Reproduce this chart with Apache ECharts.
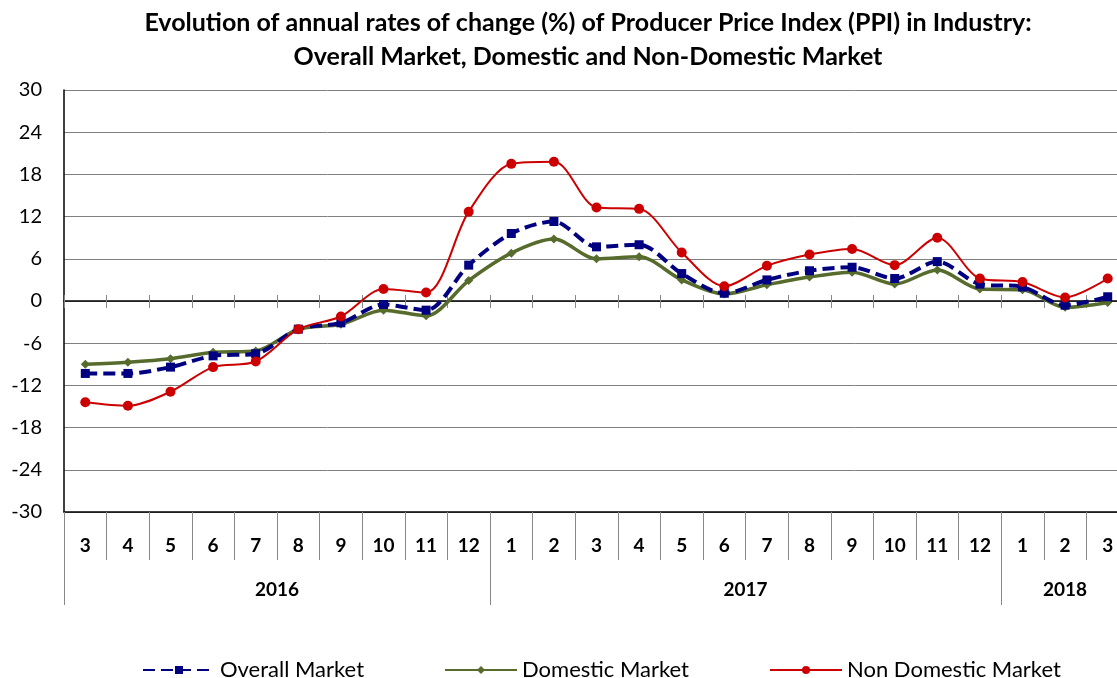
<!DOCTYPE html>
<html>
<head>
<meta charset="utf-8">
<script src="https://cdn.jsdelivr.net/npm/echarts@6/dist/echarts.min.js"></script>
<style>html,body{margin:0;padding:0;background:#fff}#c{width:1117px;height:678px}</style>
</head>
<body>
<div id="c"></div>
<script>
var months = ['3','4','5','6','7','8','9','10','11','12','1','2','3','4','5','6','7','8','9','10','11','12','1','2','3'];
var years = ['2016','2017','2018'];
var yearSpans = [10, 12, 3];
var overall = [-10.3,-10.3,-9.4,-7.8,-7.5,-4.0,-3.1,-0.5,-1.3,5.1,9.6,11.3,7.7,8.0,3.9,1.1,3.0,4.3,4.8,3.2,5.6,2.4,2.0,-0.6,0.6];
var domestic = [-9.0,-8.7,-8.2,-7.3,-7.1,-4.0,-3.3,-1.3,-2.1,2.9,6.8,8.8,6.0,6.3,3.0,1.0,2.3,3.4,4.1,2.4,4.4,1.7,1.6,-0.9,-0.2];
var nonDomestic = [-14.4,-14.9,-12.9,-9.4,-8.6,-4.0,-2.2,1.7,1.2,12.7,19.5,19.8,13.3,13.1,6.9,2.1,5.0,6.6,7.4,5.1,9.0,3.2,2.7,0.5,3.2];
var yTicks = [-30,-24,-18,-12,-6,0,6,12,18,24,30];

var FONT = 'Lato';
var yearBounds = [0], yearCenters = [];
(function(){ var acc = 0; for (var i = 0; i < yearSpans.length; i++) { yearCenters.push(acc + yearSpans[i]/2); acc += yearSpans[i]; yearBounds.push(acc); } })();

var chart = echarts.init(document.getElementById('c'), null, {renderer:'canvas'});
chart.setOption({
  animation: false,
  backgroundColor: '#fff',
  title: {
    text: 'Evolution of annual rates of change (%) of Producer Price Index (PPI) in Industry:\nOverall Market, Domestic and Non-Domestic Market',
    left: 583, top: 1, textAlign: 'center',
    textStyle: {fontFamily: FONT, fontWeight: 'bold', fontSize: 25, color: '#000', lineHeight: 34}
  },
  legend: {
    bottom: -8, left: 137, itemWidth: 72, itemHeight: 10, itemGap: 80,
    textStyle: {fontFamily: FONT, fontSize: 22, color: '#000'},
    data: ['Overall Market','Domestic Market','Non Domestic Market']
  },
  grid: {left: 64, right: -12, top: 90, bottom: 166, containLabel: false, outerBoundsMode: 'none'},
  xAxis: [
    {
      type: 'category', data: months, position: 'bottom', boundaryGap: true,
      axisLine: {onZero: false, lineStyle: {color: '#000', width: 1.5}},
      axisTick: {show: true, length: 48, interval: 0, lineStyle: {color: '#888'}},
      axisLabel: {interval: 0, margin: 24, fontFamily: FONT, fontWeight: 'bold', fontSize: 19, color: '#000'},
      splitLine: {show: false}
    },
    {
      type: 'category', data: months, position: 'bottom', boundaryGap: true,
      axisLine: {onZero: true, lineStyle: {color: '#000', width: 1.5}},
      axisTick: {show: true, inside: true, length: 6, interval: 0, lineStyle: {color: '#888'}},
      axisLabel: {show: false}, splitLine: {show: false}
    },
    {
      type: 'category', data: months, position: 'bottom', boundaryGap: true, offset: -211,
      axisLine: {show: false, onZero: false},
      axisTick: {show: true, length: 7, interval: 0, lineStyle: {color: '#888'}},
      axisLabel: {show: false}, splitLine: {show: false}
    },
    {
      type: 'value', position: 'bottom', min: 0, max: yearBounds[yearBounds.length-1],
      axisLine: {show: false, onZero: false},
      axisTick: {show: true, length: 93, customValues: yearBounds, lineStyle: {color: '#888'}},
      axisLabel: {show: true, customValues: yearCenters, margin: 68, fontFamily: FONT, fontWeight: 'bold', fontSize: 19, color: '#000',
        formatter: function(v){ var i = yearCenters.indexOf(v); return i >= 0 ? years[i] : ''; }},
      splitLine: {show: false}
    }
  ],
  yAxis: {
    type: 'value', min: -30, max: 30, interval: 6,
    axisLine: {show: true, onZero: false, lineStyle: {color: '#000', width: 1.5}},
    axisTick: {show: false},
    axisLabel: {margin: 22, fontFamily: FONT, fontSize: 20, color: '#000'},
    splitLine: {show: true, lineStyle: {color: '#808080', width: 1}}
  },
  series: [
    {
      name: 'Overall Market', type: 'line', data: overall, smooth: 0.3, xAxisIndex: 0,
      symbol: 'rect', symbolSize: 9, z: 3,
      itemStyle: {color: '#000080'},
      lineStyle: {color: '#000080', width: 4, type: [12, 6]}
    },
    {
      name: 'Domestic Market', type: 'line', data: domestic, smooth: 0.3, xAxisIndex: 0,
      symbol: 'diamond', symbolSize: 9, z: 2,
      itemStyle: {color: '#566b2c'},
      lineStyle: {color: '#566b2c', width: 3.5}
    },
    {
      name: 'Non Domestic Market', type: 'line', data: nonDomestic, smooth: 0.3, xAxisIndex: 0,
      symbol: 'circle', symbolSize: 10, z: 4,
      itemStyle: {color: '#cc0000'},
      lineStyle: {color: '#cc0000', width: 2}
    }
  ]
});
</script>
</body>
</html>
